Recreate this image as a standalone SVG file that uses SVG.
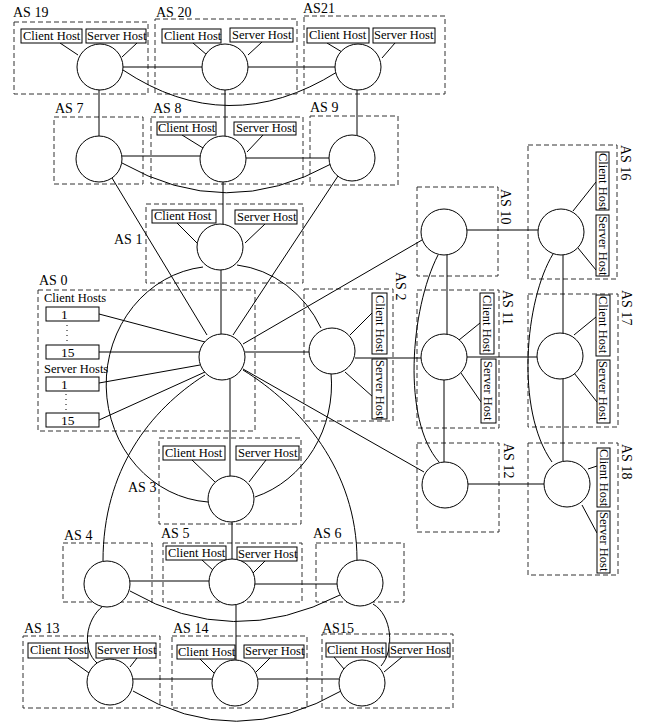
<svg xmlns="http://www.w3.org/2000/svg" width="645" height="723" viewBox="0 0 645 723">
<style>
.bg{fill:#fff}
.as{fill:none;stroke:#333;stroke-width:1;stroke-dasharray:5,3}
.lbl{font-family:"Liberation Serif","Times New Roman",serif;font-size:14px;fill:#000}
.hb{fill:#fff;stroke:#000;stroke-width:1}
.ht{font-family:"Liberation Serif","Times New Roman",serif;font-size:12.5px;fill:#000}
.num{font-family:"Liberation Serif","Times New Roman",serif;font-size:13.5px;fill:#000}
.rt{font-family:"Liberation Serif","Times New Roman",serif;font-size:12.5px;fill:#000}
.nd{fill:#fff;stroke:#000;stroke-width:1}
.cn line,.cn path{stroke:#000;stroke-width:1;fill:none}
.dots{stroke:#000;stroke-width:1;stroke-dasharray:1,4}
</style>
<rect class="bg" width="645" height="723"/>
<g id="boxes">
<rect class="as" x="14" y="22" width="134" height="72"/>
<rect class="as" x="155" y="19" width="142" height="75"/>
<rect class="as" x="304" y="16" width="141" height="78"/>
<rect class="as" x="54" y="117" width="89" height="67"/>
<rect class="as" x="151" y="117" width="152" height="67"/>
<rect class="as" x="310" y="116" width="88" height="69"/>
<rect class="as" x="146" y="204" width="157" height="79"/>
<rect class="as" x="38" y="290" width="217" height="141"/>
<rect class="as" x="304" y="289" width="89" height="132"/>
<rect class="as" x="417" y="187" width="81" height="89"/>
<rect class="as" x="417" y="290" width="82" height="138"/>
<rect class="as" x="417" y="443" width="82" height="89"/>
<rect class="as" x="528" y="145" width="89" height="134"/>
<rect class="as" x="528" y="294" width="90" height="133"/>
<rect class="as" x="528" y="443" width="90" height="132"/>
<rect class="as" x="159" y="438" width="142" height="86"/>
<rect class="as" x="63" y="543" width="89" height="59"/>
<rect class="as" x="163" y="543" width="139" height="59"/>
<rect class="as" x="316" y="543" width="88" height="59"/>
<rect class="as" x="23" y="636" width="137" height="72"/>
<rect class="as" x="172" y="636" width="135" height="72"/>
<rect class="as" x="322" y="634" width="131" height="74"/>
</g>
<g id="connectors" class="cn">
<line x1="99" y1="90" x2="99" y2="136"/>
<line x1="225" y1="90" x2="225" y2="136"/>
<line x1="357" y1="90" x2="357" y2="136"/>
<line x1="223" y1="182" x2="223" y2="224"/>
<line x1="221" y1="270" x2="221" y2="334"/>
<line x1="230" y1="379" x2="230" y2="477"/>
<line x1="232" y1="522" x2="232" y2="560"/>
<line x1="236" y1="604" x2="236" y2="660"/>
<line x1="447" y1="255" x2="447" y2="335"/>
<line x1="444" y1="380" x2="444" y2="462"/>
<line x1="563" y1="255" x2="563" y2="334"/>
<line x1="563" y1="379" x2="563" y2="461"/>
<line x1="123" y1="67" x2="202" y2="67"/>
<line x1="248" y1="67" x2="335" y2="67"/>
<line x1="122" y1="156" x2="200" y2="156"/>
<line x1="246" y1="158" x2="329" y2="158"/>
<line x1="245" y1="352" x2="309" y2="352"/>
<line x1="355" y1="358" x2="421" y2="358"/>
<line x1="467" y1="357" x2="537" y2="357"/>
<line x1="467" y1="230" x2="538" y2="230"/>
<line x1="468" y1="484" x2="544" y2="484"/>
<line x1="130" y1="581" x2="209" y2="581"/>
<line x1="255" y1="584" x2="337" y2="584"/>
<line x1="133" y1="679" x2="212" y2="679"/>
<line x1="258" y1="679" x2="339" y2="679"/>
<line x1="112" y1="178" x2="207" y2="335"/>
<line x1="338" y1="176" x2="233" y2="335"/>
<line x1="243" y1="344" x2="422" y2="240"/>
<line x1="243" y1="369" x2="424" y2="472"/>
<line x1="99" y1="314" x2="205" y2="342"/>
<line x1="99" y1="352" x2="200" y2="352"/>
<line x1="99" y1="383" x2="200" y2="365"/>
<line x1="99" y1="420" x2="205" y2="372"/>
<path d="M123,70 Q228,140 337,72"/>
<path d="M122,163 Q226,222 331,164"/>
<path d="M203,267 A109,118 0 0,0 208,502"/>
<path d="M237,265 A109,118 0 0,1 321,328"/>
<path d="M331,373 A109,118 0 0,1 255,497"/>
<path d="M205,375 C150,410 103,470 103,561"/>
<path d="M243,370 C300,405 357,470 357,560"/>
<path d="M130,591 Q232,650 340,595"/>
<path d="M133,691 Q235,752 343,690"/>
<path d="M103,606 C85,620 82,650 97,663"/>
<path d="M373,604 C392,615 395,650 381,666"/>
<path d="M438,255 C410,310 402,420 439,462"/>
<path d="M553,254 C525,300 515,410 552,462"/>
<line x1="60" y1="43" x2="78" y2="55"/>
<line x1="137" y1="43" x2="122" y2="57"/>
<line x1="193" y1="43" x2="207" y2="55"/>
<line x1="262" y1="42" x2="248" y2="55"/>
<line x1="327" y1="43" x2="342" y2="52"/>
<line x1="395" y1="43" x2="382" y2="58"/>
<line x1="182" y1="135" x2="203" y2="148"/>
<line x1="263" y1="135" x2="247" y2="152"/>
<line x1="177" y1="223" x2="197" y2="243"/>
<line x1="265" y1="224" x2="245" y2="243"/>
<line x1="192" y1="460" x2="215" y2="482"/>
<line x1="266" y1="460" x2="249" y2="482"/>
<line x1="202" y1="560" x2="214" y2="571"/>
<line x1="265" y1="561" x2="253" y2="573"/>
<line x1="68" y1="658" x2="89" y2="673"/>
<line x1="137" y1="658" x2="130" y2="667"/>
<line x1="199" y1="658" x2="214" y2="673"/>
<line x1="270" y1="658" x2="256" y2="672"/>
<line x1="334" y1="657" x2="344" y2="669"/>
<line x1="402" y1="657" x2="384" y2="672"/>
<line x1="350" y1="335" x2="372" y2="313"/>
<line x1="345" y1="372" x2="373" y2="397"/>
<line x1="459" y1="340" x2="480" y2="323"/>
<line x1="461" y1="373" x2="481" y2="402"/>
<line x1="573" y1="211" x2="596" y2="182"/>
<line x1="578" y1="248" x2="596" y2="270"/>
<line x1="574" y1="335" x2="596" y2="317"/>
<line x1="574" y1="373" x2="597" y2="402"/>
<line x1="588" y1="469" x2="597" y2="466"/>
<line x1="582" y1="505" x2="597" y2="533"/>
</g>
<g id="as19"><text class="lbl" x="13" y="17">AS 19</text><rect class="hb" x="21" y="29" width="61" height="14"/><text class="ht" x="23" y="40">Client Host</text><rect class="hb" x="86" y="29" width="60" height="14"/><text class="ht" x="87" y="40">Server Host</text><circle class="nd" cx="100" cy="67" r="23"/></g>
<g id="as20"><text class="lbl" x="156" y="17">AS 20</text><rect class="hb" x="162" y="29" width="59" height="14"/><text class="ht" x="164" y="40">Client Host</text><rect class="hb" x="230" y="28" width="63" height="14"/><text class="ht" x="232" y="39">Server Host</text><circle class="nd" cx="225" cy="67" r="23"/></g>
<g id="as21"><text class="lbl" x="303" y="13">AS21</text><rect class="hb" x="307" y="28" width="62" height="15"/><text class="ht" x="309" y="39">Client Host</text><rect class="hb" x="373" y="28" width="62" height="15"/><text class="ht" x="374" y="39">Server Host</text><circle class="nd" cx="358" cy="67" r="23"/></g>
<g id="as7"><text class="lbl" x="55" y="113">AS 7</text><circle class="nd" cx="99" cy="159" r="23"/></g>
<g id="as8"><text class="lbl" x="153" y="113">AS 8</text><rect class="hb" x="157" y="122" width="59" height="13"/><text class="ht" x="158" y="132">Client Host</text><rect class="hb" x="234" y="122" width="62" height="13"/><text class="ht" x="236" y="132">Server Host</text><circle class="nd" cx="223" cy="159" r="23"/></g>
<g id="as9"><text class="lbl" x="310" y="112">AS 9</text><circle class="nd" cx="352" cy="158" r="23"/></g>
<g id="as1"><text class="lbl" x="114" y="244">AS 1</text><rect class="hb" x="152" y="210" width="64" height="13"/><text class="ht" x="154" y="220">Client Host</text><rect class="hb" x="235" y="210" width="62" height="14"/><text class="ht" x="237" y="221">Server Host</text><circle class="nd" cx="220" cy="247" r="23"/></g>
<g id="as0"><text class="lbl" x="39" y="285">AS 0</text><text class="ht" x="44" y="302">Client Hosts</text><rect class="hb" x="46" y="307" width="53" height="14"/><text class="num" x="61" y="319">1</text><line class="dots" x1="67" y1="325" x2="67" y2="343"/><rect class="hb" x="46" y="345" width="53" height="14"/><text class="num" x="61" y="357">15</text><text class="ht" x="44" y="373">Server Hosts</text><rect class="hb" x="46" y="377" width="53" height="14"/><text class="num" x="61" y="389">1</text><line class="dots" x1="66" y1="394" x2="66" y2="412"/><rect class="hb" x="46" y="413" width="53" height="14"/><text class="num" x="61" y="425">15</text><circle class="nd" cx="222" cy="357" r="23"/></g>
<g id="as2"><text class="lbl" transform="translate(396,272) rotate(90)">AS 2</text><rect class="hb" x="372" y="293" width="15" height="61"/><text class="rt" transform="translate(376,295) rotate(90)">Client Host</text><rect class="hb" x="372" y="359" width="15" height="60"/><text class="rt" transform="translate(376,360) rotate(90)">Server Host</text><circle class="nd" cx="332" cy="351" r="23"/></g>
<g id="as10"><text class="lbl" transform="translate(501,189) rotate(90)">AS 10</text><circle class="nd" cx="444" cy="232" r="23"/></g>
<g id="as11"><text class="lbl" transform="translate(503,290) rotate(90)">AS 11</text><rect class="hb" x="480" y="293" width="14" height="61"/><text class="rt" transform="translate(483,295) rotate(90)">Client Host</text><rect class="hb" x="481" y="359" width="15" height="64"/><text class="rt" transform="translate(484,361) rotate(90)">Server Host</text><circle class="nd" cx="444" cy="357" r="23"/></g>
<g id="as12"><text class="lbl" transform="translate(504,443) rotate(90)">AS 12</text><circle class="nd" cx="445" cy="485" r="23"/></g>
<g id="as16"><text class="lbl" transform="translate(621,145) rotate(90)">AS 16</text><rect class="hb" x="596" y="152" width="13" height="58"/><text class="rt" transform="translate(599,153) rotate(90)">Client Host</text><rect class="hb" x="596" y="215" width="13" height="61"/><text class="rt" transform="translate(599,216) rotate(90)">Server Host</text><circle class="nd" cx="561" cy="232" r="23"/></g>
<g id="as17"><text class="lbl" transform="translate(622,290) rotate(90)">AS 17</text><rect class="hb" x="596" y="295" width="14" height="61"/><text class="rt" transform="translate(599,296) rotate(90)">Client Host</text><rect class="hb" x="597" y="360" width="13" height="63"/><text class="rt" transform="translate(599,361) rotate(90)">Server Host</text><circle class="nd" cx="560" cy="356" r="23"/></g>
<g id="as18"><text class="lbl" transform="translate(622,444) rotate(90)">AS 18</text><rect class="hb" x="597" y="448" width="13" height="59"/><text class="rt" transform="translate(600,449) rotate(90)">Client Host</text><rect class="hb" x="597" y="511" width="13" height="62"/><text class="rt" transform="translate(600,512) rotate(90)">Server Host</text><circle class="nd" cx="567" cy="484" r="23"/></g>
<g id="as3"><text class="lbl" x="128" y="492">AS 3</text><rect class="hb" x="163" y="446" width="62" height="14"/><text class="ht" x="165" y="457">Client Host</text><rect class="hb" x="236" y="446" width="63" height="14"/><text class="ht" x="238" y="457">Server Host</text><circle class="nd" cx="231" cy="499" r="23"/></g>
<g id="as4"><text class="lbl" x="64" y="540">AS 4</text><circle class="nd" cx="107" cy="584" r="23"/></g>
<g id="as5"><text class="lbl" x="161" y="538">AS 5</text><rect class="hb" x="166" y="546" width="60" height="14"/><text class="ht" x="168" y="557">Client Host</text><rect class="hb" x="237" y="547" width="60" height="14"/><text class="ht" x="238" y="558">Server Host</text><circle class="nd" cx="232" cy="582" r="23"/></g>
<g id="as6"><text class="lbl" x="313" y="538">AS 6</text><circle class="nd" cx="360" cy="583" r="23"/></g>
<g id="as13"><text class="lbl" x="24" y="633">AS 13</text><rect class="hb" x="28" y="643" width="60" height="15"/><text class="ht" x="30" y="654">Client Host</text><rect class="hb" x="96" y="643" width="60" height="15"/><text class="ht" x="97" y="654">Server Host</text><circle class="nd" cx="110" cy="682" r="23"/></g>
<g id="as14"><text class="lbl" x="173" y="633">AS 14</text><rect class="hb" x="177" y="645" width="58" height="14"/><text class="ht" x="178" y="656">Client Host</text><rect class="hb" x="244" y="645" width="60" height="13"/><text class="ht" x="245" y="655">Server Host</text><circle class="nd" cx="235" cy="683" r="23"/></g>
<g id="as15"><text class="lbl" x="322" y="633">AS15</text><rect class="hb" x="326" y="643" width="60" height="14"/><text class="ht" x="327" y="654">Client Host</text><rect class="hb" x="389" y="643" width="61" height="14"/><text class="ht" x="390" y="654">Server Host</text><circle class="nd" cx="362" cy="683" r="23"/></g>
</svg>
